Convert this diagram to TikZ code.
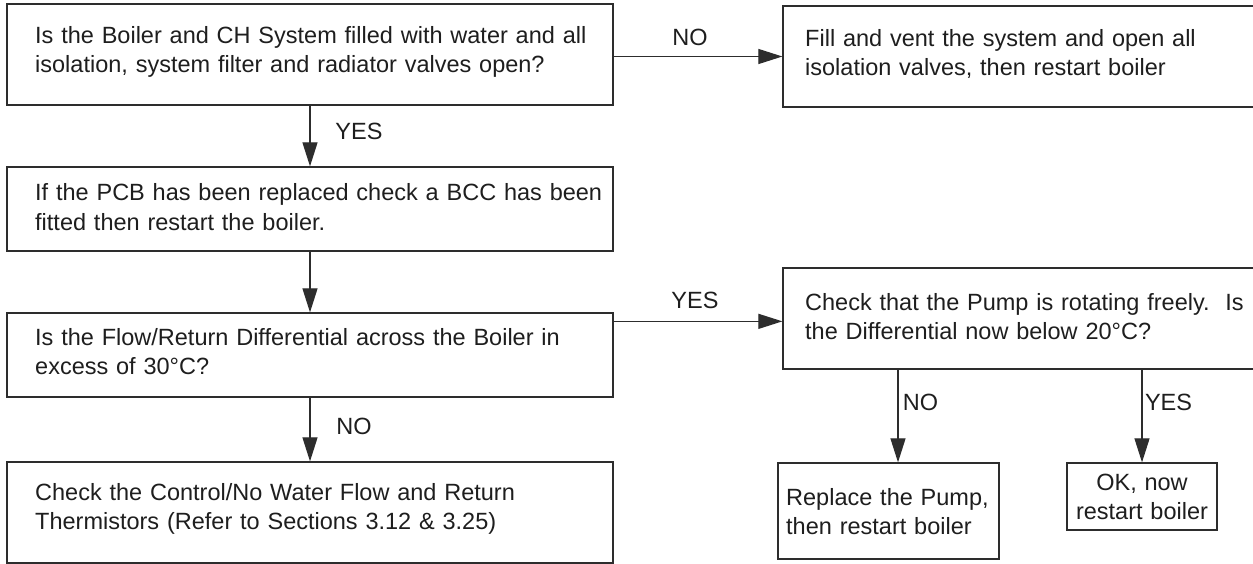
\documentclass[tikz,border=0pt]{standalone}
\usepackage{fontspec}
\setmainfont{Liberation Sans}
\usetikzlibrary{arrows.meta}
\definecolor{linec}{RGB}{45,45,45}
\definecolor{textc}{RGB}{30,30,30}
\begin{document}
\begin{tikzpicture}[x=1pt,y=-1pt,
  box/.style={draw=linec, line width=1.3pt, rectangle, inner sep=0pt},
  txt/.style={anchor=base west, inner sep=0pt, align=left, text=textc, font=\fontsize{23.5}{29}\selectfont},
  lbl/.style={inner sep=0pt, text=textc, font=\fontsize{23.5}{29}\selectfont},
  conn/.style={draw=linec, line width=1.2pt, -{Triangle[length=24pt,width=15pt]}}]
\useasboundingbox (0,0) rectangle (1253,564);
\fill[white] (0,0) rectangle (1253,564);
\clip (0,0) rectangle (1253,564);
% boxes
\node[box, minimum width=606pt, minimum height=101pt] (b1) at (310,54.5) {};
\node[box, minimum width=487pt, minimum height=101pt] (b2) at (1026.5,56.5) {};
\node[box, minimum width=606pt, minimum height=84pt] (b3) at (310,209) {};
\node[box, minimum width=606pt, minimum height=84pt] (b4) at (310,355) {};
\node[box, minimum width=606pt, minimum height=101pt] (b5) at (310,512.5) {};
\node[box, minimum width=487pt, minimum height=101pt] (b6) at (1026.5,318.5) {};
\node[box, minimum width=221pt, minimum height=96pt] (b7) at (888.5,511) {};
\node[box, minimum width=150pt, minimum height=67pt] (b8) at (1142,496.5) {};
% texts
\node[txt, text width=580pt] (t1) at (35,44) {Is the Boiler and CH System filled with water and all\\isolation, system filter and radiator valves open?};
\node[txt, text width=440pt] (t2) at (805,47) {Fill and vent the system and open all\\isolation valves, then restart boiler};
\node[txt, text width=580pt] (t3) at (35,201) {If the PCB has been replaced check a BCC has been\\fitted then restart the boiler.};
\node[txt, text width=580pt] (t4) at (35,345) {Is the Flow/Return Differential across the Boiler in\\excess of 30°C?};
\node[txt, text width=580pt] (t5) at (35,500) {Check the Control/No Water Flow and Return\\Thermistors (Refer to Sections 3.12 \& 3.25)};
\node[txt, text width=450pt] (t6) at (805,310) {Check that the Pump is rotating freely.\ \ Is\\the Differential now below 20°C?};
\node[txt, text width=210pt] (t7) at (786,505) {Replace the Pump,\\then restart boiler};
\node[txt, anchor=base, align=center, text width=150pt] (t8) at (1142,490) {OK, now\\restart boiler};
% connectors
\draw[conn] (b2.west -| b1.east) -- (b2.west);
\draw[conn] (b1.south) -- (b3.north);
\draw[conn] (b3.south) -- (b4.north);
\draw[conn] (b4.south) -- (b5.north);
\draw[conn] ([yshift=-9pt]b4.north east) -- ([yshift=-9pt]b4.north east -| b6.west);
\draw[conn] ([xshift=9.5pt]b7.north |- b6.south) -- ([xshift=9.5pt]b7.north);
\draw[conn] (b8.north |- b6.south) -- (b8.north);
% labels
\node[lbl] (l1) at (690,37) {NO};
\node[lbl] (l2) at (359,131) {YES};
\node[lbl] (l3) at (695,300) {YES};
\node[lbl] (l4) at (354,426) {NO};
\node[lbl] (l5) at (920.5,402) {NO};
\node[lbl] (l6) at (1168.5,402) {YES};
\end{tikzpicture}
\end{document}
